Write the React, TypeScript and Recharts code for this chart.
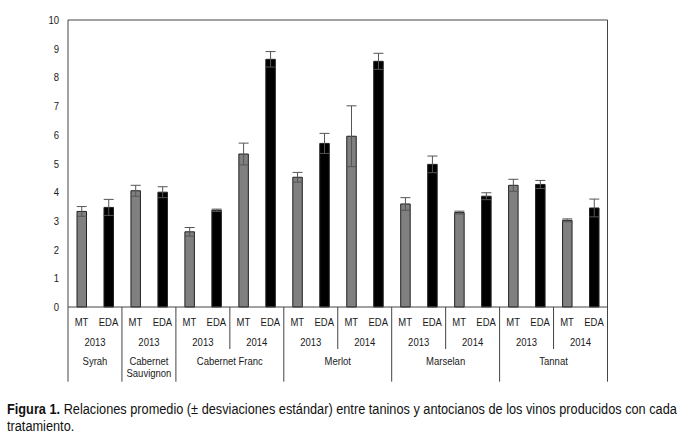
import React from "react";
import { BarChart, Bar, Cell, XAxis, YAxis, ErrorBar, ReferenceLine } from "recharts";

// values (ratio taninos / antocianos)
const varieties = [
  "Syrah", "Syrah",
  "Cabernet Sauvignon", "Cabernet Sauvignon",
  "Cabernet Franc", "Cabernet Franc", "Cabernet Franc", "Cabernet Franc",
  "Merlot", "Merlot", "Merlot", "Merlot",
  "Marselan", "Marselan", "Marselan", "Marselan",
  "Tannat", "Tannat", "Tannat", "Tannat",
];
const years = [
  "2013", "2013", "2013", "2013", "2013", "2013", "2014", "2014",
  "2013", "2013", "2014", "2014", "2013", "2013", "2014", "2014",
  "2013", "2013", "2014", "2014",
];
const treatments = [
  "MT", "EDA", "MT", "EDA", "MT", "EDA", "MT", "EDA", "MT", "EDA",
  "MT", "EDA", "MT", "EDA", "MT", "EDA", "MT", "EDA", "MT", "EDA",
];
const means = [
  3.33, 3.47, 4.05, 4.0, 2.62, 3.37, 5.33, 8.63, 4.52, 5.7,
  5.95, 8.56, 3.59, 4.97, 3.29, 3.86, 4.24, 4.27, 3.02, 3.45,
];
const sds = [
  0.17, 0.28, 0.19, 0.19, 0.15, 0.04, 0.38, 0.27, 0.17, 0.35,
  1.06, 0.28, 0.22, 0.29, 0.05, 0.12, 0.21, 0.14, 0.05, 0.31,
];
const yTicks = [0, 1, 2, 3, 4, 5, 6, 7, 8, 9, 10];

const data = means.map((v, i) => ({
  key: `${varieties[i]}-${years[i]}-${treatments[i]}`,
  variety: varieties[i],
  year: years[i],
  trt: treatments[i],
  value: v,
  sd: sds[i],
}));

const FONT = '"Liberation Sans", Arial, sans-serif';
const PLOT_LEFT = 68;
const PLOT_RIGHT = 607.5;
const SLOT = (PLOT_RIGHT - PLOT_LEFT) / data.length;
const LINE = "#444";
const TEXT = "#1a1a1a";
const SQUEEZE = 0.82; // the original uses a narrow face

const Narrow = ({ x, y, anchor = "middle", children }: any) => (
  <text
    transform={`translate(${x},${y}) scale(${SQUEEZE},1)`}
    textAnchor={anchor}
    style={{ fontFamily: FONT, fontSize: 11.6, fill: TEXT }}
  >
    {children}
  </text>
);

const YTick = (props: any) => {
  const { x, y, payload } = props;
  return (
    <Narrow x={x} y={y + 4} anchor="end">
      {payload.value}
    </Narrow>
  );
};

const GroupTick = (props: any) => {
  const { x, y, index } = props;
  const i = index;
  const d = data[i];
  if (!d) return null;
  const left = x - SLOT / 2;
  const firstOfVariety = i === 0 || data[i - 1].variety !== d.variety;
  const firstOfYear = i % 2 === 0;
  let span = 0;
  if (firstOfVariety) {
    for (let j = i; j < data.length && data[j].variety === d.variety; j++) span++;
  }
  const words = d.variety.split(" ");
  const lines = firstOfVariety && span <= 2 && words.length > 1 ? words : [d.variety];
  const isLast = i === data.length - 1;
  return (
    <g>
      <Narrow x={x} y={y + 18.7}>{d.trt}</Narrow>
      {firstOfYear && <Narrow x={left + SLOT} y={y + 38.7}>{d.year}</Narrow>}
      {firstOfYear && (
        <line x1={left} x2={left} y1={y} y2={y + (firstOfVariety ? 74.7 : 42)} stroke={LINE} strokeWidth={1} />
      )}
      {isLast && (
        <line x1={x + SLOT / 2} x2={x + SLOT / 2} y1={y} y2={y + 74.7} stroke={LINE} strokeWidth={1} />
      )}
      {firstOfVariety &&
        lines.map((ln, k) => (
          <Narrow key={k} x={left + (span * SLOT) / 2} y={y + 58.3 + k * 11.7}>
            {ln}
          </Narrow>
        ))}
    </g>
  );
};

export default function App() {
  return (
    <div style={{ position: "absolute", left: 0, top: 0, width: 682, height: 443, background: "#fff" }}>
      <BarChart
        width={682}
        height={395}
        data={data}
        margin={{ top: 20, right: 73.5, left: 0, bottom: 8 }}
        style={{ fontFamily: FONT }}
      >
        <XAxis
          dataKey="key"
          interval={0}
          height={80}
          tickSize={0}
          tickMargin={0}
          tickLine={false}
          axisLine={{ stroke: LINE }}
          tick={<GroupTick />}
        />
        <YAxis
          domain={[0, 10]}
          ticks={yTicks}
          width={68}
          tickSize={0}
          tickMargin={9}
          tickLine={false}
          axisLine={{ stroke: LINE }}
          tick={<YTick />}
        />
        <YAxis
          yAxisId="right"
          orientation="right"
          domain={[0, 10]}
          width={1}
          tick={false}
          tickLine={false}
          axisLine={{ stroke: LINE }}
        />
        <ReferenceLine y={10} stroke={LINE} strokeWidth={1} />
        <Bar dataKey="value" barSize={9.5} isAnimationActive={false} stroke="#222" strokeWidth={1}>
          {data.map((d) => (
            <Cell key={d.key} fill={d.trt === "MT" ? "#808080" : "#000000"} />
          ))}
          <ErrorBar dataKey="sd" width={5} stroke="#555" strokeWidth={1} direction="y" isAnimationActive={false} />
        </Bar>
      </BarChart>
      <div
        style={{
          position: "absolute",
          left: 7,
          top: 401,
          fontFamily: FONT,
          fontSize: 14,
          lineHeight: "17px",
          color: "#111",
          whiteSpace: "nowrap",
          transform: "scaleX(0.91)",
          transformOrigin: "left top",
        }}
      >
        <b>Figura 1.</b> Relaciones promedio (± desviaciones estándar) entre taninos y antocianos de los vinos producidos con cada
        <br />
        tratamiento.
      </div>
    </div>
  );
}
